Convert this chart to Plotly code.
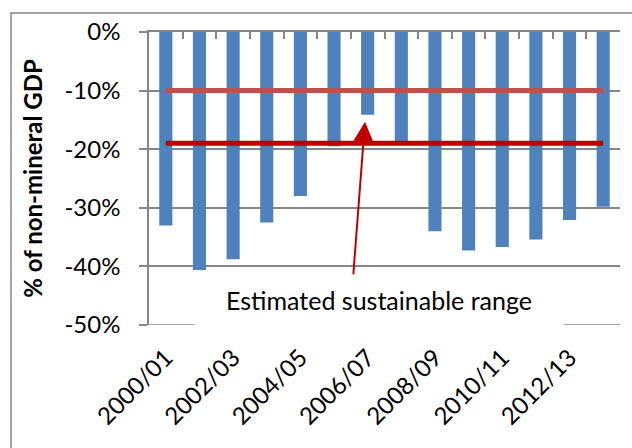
import plotly.graph_objects as go

# Fiscal years and non-mineral primary balance (% of non-mineral GDP)
years = ["2000/01", "2001/02", "2002/03", "2003/04", "2004/05", "2005/06", "2006/07",
         "2007/08", "2008/09", "2009/10", "2010/11", "2011/12", "2012/13", "2013/14"]
balance = [-33.0, -40.6, -38.8, -32.5, -28.0, -19.5, -14.1,
           -18.6, -34.0, -37.3, -36.7, -35.4, -32.1, -29.8]

# Estimated sustainable range bounds
upper_bound = -10.0
lower_bound = -19.0

y_ticks = [0, -10, -20, -30, -40, -50]
y_tick_labels = ["0%", "-10%", "-20%", "-30%", "-40%", "-50%"]
x_tick_labels = years[::2]

FONT = "Lato"
GREY = "#868686"

fig = go.Figure()

fig.add_trace(go.Bar(
    x=years, y=balance, marker=dict(color="#4F81BD", line=dict(width=0)),
    width=0.39, xaxis="x", yaxis="y", showlegend=False, hoverinfo="x+y",
))

fig.add_trace(go.Scatter(
    x=[years[0], years[-1]], y=[upper_bound, upper_bound], mode="lines",
    line=dict(color="#C0504D", width=5), xaxis="x2", yaxis="y", showlegend=False,
))
fig.add_trace(go.Scatter(
    x=[years[0], years[-1]], y=[lower_bound, lower_bound], mode="lines",
    line=dict(color="#C00000", width=5), xaxis="x2", yaxis="y", showlegend=False,
))

fig.update_layout(
    width=632, height=448,
    margin=dict(l=149, r=12, t=32, b=123),
    paper_bgcolor="white", plot_bgcolor="white",
    font=dict(family=FONT, size=24, color="black"),
    xaxis=dict(
        type="category", categoryorder="array", categoryarray=years,
        range=[-0.5, len(years) - 0.5],
        tickmode="array", tickvals=x_tick_labels, ticktext=x_tick_labels,
        tickangle=-45, ticks="", showline=False, showgrid=False, zeroline=False,
        ticklabelstandoff=13, tickfont=dict(size=24),
    ),
    xaxis2=dict(
        type="category", categoryorder="array", categoryarray=years,
        range=[-0.5, len(years) - 0.5], overlaying="x", side="top",
        showticklabels=False, ticks="inside", tickson="boundaries", ticklen=7,
        tickcolor=GREY, tickwidth=1.5,
        showline=True, linecolor=GREY, linewidth=1.5, showgrid=False, zeroline=False,
    ),
    yaxis=dict(
        range=[-50, 0], tickmode="array", tickvals=y_ticks, ticktext=y_tick_labels,
        ticks="outside", ticklen=8, tickcolor=GREY, tickwidth=1.5,
        ticklabelstandoff=14, tickfont=dict(size=24),
        showline=True, linecolor=GREY, linewidth=1.5,
        showgrid=True, gridcolor=GREY, gridwidth=1.5, zeroline=False,
        title=dict(text="<b>% of non-mineral GDP</b>", standoff=15, font=dict(size=24)),
    ),
    shapes=[
        # chart-area frame
        dict(
            type="rect", xref="paper", yref="paper",
            x0=-0.293, x1=1.05, y0=-0.5, y1=1.065,
            line=dict(color=GREY, width=1.5), fillcolor="rgba(0,0,0,0)", layer="below",
        ),
        # bottom gridline at the axis minimum
        dict(
            type="line", xref="paper", yref="y",
            x0=0, x1=1, y0=y_ticks[-1], y1=y_ticks[-1],
            line=dict(color=GREY, width=1.5), layer="above",
        ),
    ],
    annotations=[
        dict(
            text="Estimated sustainable range", xref="paper", yref="y",
            x=0.489, y=-45.7, showarrow=False, bgcolor="white",
            width=366, height=54, xanchor="center", yanchor="middle",
            font=dict(size=25),
        ),
        dict(
            text="", xref="x", yref="y", axref="x", ayref="y",
            x=5.92, y=-15.3, ax=5.57, ay=-41.6,
            showarrow=True, arrowhead=2, arrowsize=2.0, arrowwidth=2,
            arrowcolor="#C00000", standoff=0,
        ),
    ],
)

fig.write_html("out.html")
